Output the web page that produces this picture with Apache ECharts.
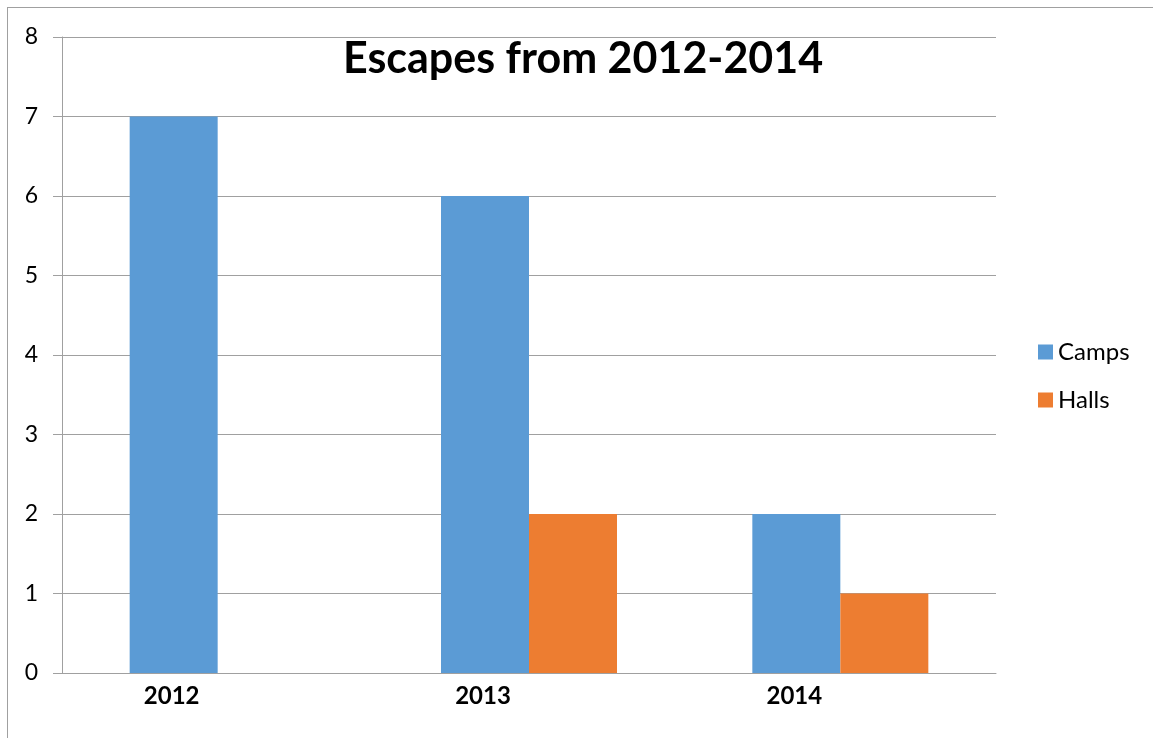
<!DOCTYPE html>
<html>
<head>
<meta charset="utf-8">
<script src="https://cdn.jsdelivr.net/npm/echarts@6/dist/echarts.min.js"></script>
<style>
	html, body { margin: 0; padding: 0; background: #fff; }
	#frame { position: absolute; left: 7px; top: 7px; width: 1146px; height: 731px;
		border-top: 1px solid #a0a0a0; border-left: 1px solid #a0a0a0; }
	#chart { width: 1153px; height: 738px; }
</style>
</head>
<body>
<div id="frame"></div>
<div id="chart"></div>
<script>
var years = [ '2012', '2013', '2014' ];
var camps = [ 7, 6, 2 ];
var halls = [ 0, 2, 1 ];

var chart = echarts.init(document.getElementById('chart'));
var option = {
	animation : false,
	textStyle : { fontFamily : 'Lato' },
	color : [ '#5b9bd5', '#ed7d31' ],
	title : {
		text : 'Escapes from 2012-2014',
		left : 338,
		top : 33,
		textStyle : { fontSize : 43, fontWeight : 'bold', color : '#000', fontFamily : 'Lato' }
	},
	legend : {
		orient : 'vertical',
		left : 1033,
		top : 335,
		itemWidth : 15,
		itemHeight : 15,
		itemGap : 24,
		itemTextGap : 7,
		icon : 'rect',
		textStyle : { fontSize : 24, color : '#000', fontFamily : 'Lato' },
		data : [ 'Camps', 'Halls' ]
	},
	grid : { left : 62, right : 157, top : 37, bottom : 65, containLabel : false },
	xAxis : {
		type : 'category',
		data : years,
		axisLine : { lineStyle : { color : '#a0a0a0', width : 1 } },
		axisTick : { show : false },
		axisLabel : {
			fontSize : 24,
			fontWeight : 'bold',
			color : '#000',
			margin : 11,
			padding : [ 0, 92, 0, 0 ]
		}
	},
	yAxis : {
		type : 'value',
		min : 0,
		max : 8,
		interval : 1,
		axisLine : { show : true, lineStyle : { color : '#a0a0a0' } },
		axisTick : { show : true, length : 9, lineStyle : { color : '#a0a0a0' } },
		splitLine : { lineStyle : { color : '#a0a0a0' } },
		axisLabel : { fontSize : 23, color : '#000', margin : 24 }
	},
	series : [ {
		name : 'Camps',
		type : 'bar',
		data : camps,
		barWidth : 88,
		barGap : '0%'
	}, {
		name : 'Halls',
		type : 'bar',
		data : halls,
		barWidth : 88,
		barGap : '0%'
	} ]
};
chart.setOption(option);
</script>
</body>
</html>
